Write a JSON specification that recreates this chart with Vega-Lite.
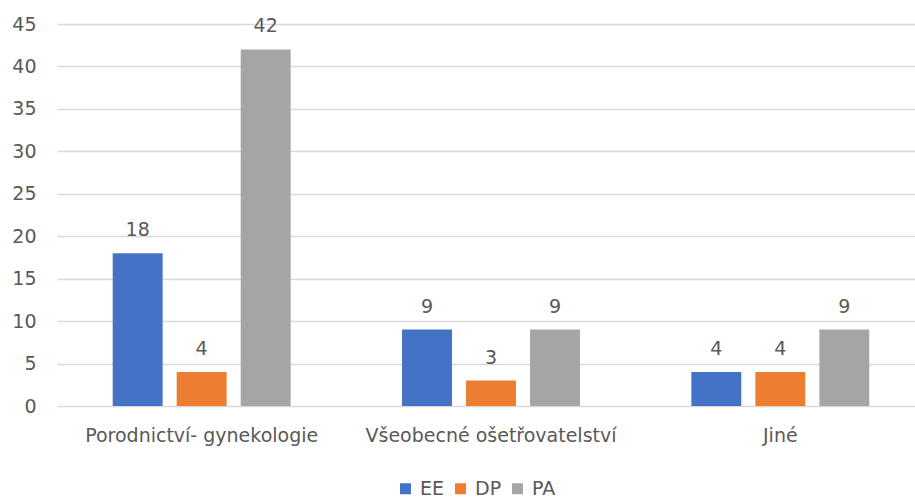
{
  "$schema": "https://vega.github.io/schema/vega-lite/v6.json",
  "autosize": {"type": "none"},
  "width": 858,
  "height": 382,
  "padding": {"left": 57, "top": 24, "right": 0, "bottom": 93},
  "background": "white",
  "config": {
    "view": {"stroke": null},
    "font": "DejaVu Sans",
    "axis": {"labelFont": "DejaVu Sans", "labelColor": "#595959", "labelFontSize": 19, "labelLimit": 400},
    "legend": {"labelFont": "DejaVu Sans", "labelColor": "#595959", "labelFontSize": 19}
  },
  "data": {
    "values": [
      {"obor": "Porodnictví- gynekologie", "skupina": "EE", "pocet": 18},
      {"obor": "Porodnictví- gynekologie", "skupina": "DP", "pocet": 4},
      {"obor": "Porodnictví- gynekologie", "skupina": "PA", "pocet": 42},
      {"obor": "Všeobecné ošetřovatelství", "skupina": "EE", "pocet": 9},
      {"obor": "Všeobecné ošetřovatelství", "skupina": "DP", "pocet": 3},
      {"obor": "Všeobecné ošetřovatelství", "skupina": "PA", "pocet": 9},
      {"obor": "Jiné", "skupina": "EE", "pocet": 4},
      {"obor": "Jiné", "skupina": "DP", "pocet": 4},
      {"obor": "Jiné", "skupina": "PA", "pocet": 9}
    ]
  },
  "encoding": {
    "x": {
      "field": "obor", "type": "nominal", "sort": null,
      "scale": {"paddingInner": 0.385, "paddingOuter": 0.1925, "range": [0, 868]},
      "axis": {"title": null, "labelAngle": 0, "ticks": false, "domain": false, "labelPadding": 20}
    },
    "xOffset": {"field": "skupina", "type": "nominal", "sort": ["EE", "DP", "PA"], "scale": {"paddingInner": 0.22, "paddingOuter": 0}},
    "y": {
      "field": "pocet", "type": "quantitative",
      "scale": {"domain": [0, 45]},
      "axis": {"title": null, "values": [0,5,10,15,20,25,30,35,40,45], "ticks": false, "domain": false, "gridColor": "#D9D9D9", "gridWidth": 1.5, "labelPadding": 21}
    }
  },
  "layer": [
    {
      "mark": {"type": "bar"},
      "encoding": {
        "color": {
          "field": "skupina", "type": "nominal", "sort": ["EE", "DP", "PA"],
          "scale": {"domain": ["EE", "DP", "PA"], "range": ["#4472C4", "#ED7D31", "#A5A5A5"]},
          "legend": {"title": null, "orient": "none", "direction": "horizontal", "legendX": 339, "legendY": 455, "symbolType": "square", "symbolSize": 121, "symbolStrokeWidth": 0, "columnPadding": 6, "labelOffset": 5}
        }
      }
    },
    {
      "mark": {"type": "text", "baseline": "alphabetic", "dy": -17, "fontSize": 19, "color": "#595959"},
      "encoding": {"text": {"field": "pocet", "type": "quantitative"}}
    }
  ]
}
